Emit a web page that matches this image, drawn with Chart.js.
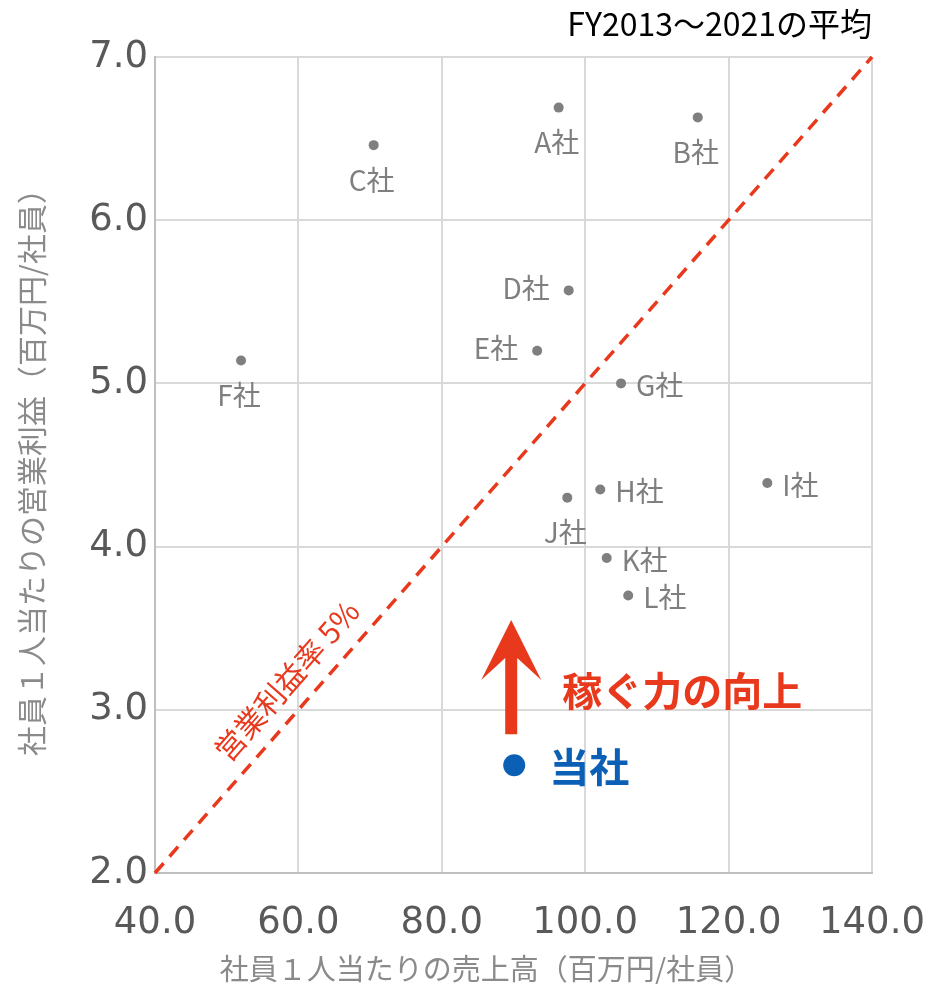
<!DOCTYPE html>
<html>
<head>
<meta charset="utf-8">
<script src="https://cdn.jsdelivr.net/npm/chart.js@4.4.1/dist/chart.umd.min.js"></script>
<style>
  html, body { margin: 0; padding: 0; background: #fff; }
</style>
</head>
<body>
<canvas id="c" width="927" height="984"></canvas>
<script>
// Data
const companies = ["A社", "B社", "C社", "D社", "E社", "F社", "G社", "H社", "I社", "J社", "K社", "L社"];
const salesPerEmployee = [96.3, 115.7, 70.5, 97.7, 93.3, 52.0, 105.0, 102.1, 125.4, 97.5, 103.0, 106.0];
const profitPerEmployee = [6.69, 6.63, 6.46, 5.57, 5.20, 5.14, 5.00, 4.35, 4.39, 4.30, 3.93, 3.70];
const labelSide = ["below", "below", "below", "left", "left", "below", "right", "right", "right", "below", "right", "right"];

const ourName = "当社";
const ourSales = [90.1];
const ourProfit = [2.66];

// 営業利益率 5% reference line endpoints
const marginLineX = [40, 140];
const marginLineY = [2.0, 7.0];
const marginLabel = "営業利益率 5%";

// arrow 稼ぐ力の向上 (y range in data units)
const arrowRange = [2.85, 3.55];
const arrowLabel = "稼ぐ力の向上";

const xRange = [40, 140];
const yRange = [2, 7];
const chartTitle = "FY2013～2021の平均";
const xTitle = "社員１人当たりの売上高（百万円/社員）";
const yTitle = "社員１人当たりの営業利益（百万円/社員）";

const CJK = '"Noto Sans CJK JP", "Noto Sans", sans-serif';
const RED = "#e8391d";
const BLUE = "#0b5fb4";

const annotations = {
  id: "annotations",
  afterDatasetsDraw(chart) {
    const ctx = chart.ctx;
    const xs = chart.scales.x, ys = chart.scales.y;
    const area = chart.chartArea;
    ctx.save();

    // title
    ctx.font = "32px " + CJK;
    ctx.fillStyle = "#000";
    ctx.textAlign = "right";
    ctx.textBaseline = "middle";
    ctx.fillText(chartTitle, area.right, area.top - 33);

    // x axis title (sits a little left of centre in the original)
    ctx.font = "29px " + CJK;
    ctx.fillStyle = "#8a8a8a";
    ctx.textAlign = "center";
    ctx.textBaseline = "bottom";
    ctx.fillText(xTitle, (area.left + area.right) / 2 - 27, chart.height - 1);

    // company labels
    ctx.font = "28px " + CJK;
    ctx.fillStyle = "#7f7f7f";
    chart.getDatasetMeta(0).data.forEach((pt, i) => {
      const side = labelSide[i];
      ctx.textBaseline = "middle";
      if (side === "below") {
        ctx.textAlign = "center";
        ctx.fillText(companies[i], pt.x - 2, pt.y + 35);
      } else if (side === "left") {
        ctx.textAlign = "right";
        ctx.fillText(companies[i], pt.x - 19, pt.y - 2);
      } else {
        ctx.textAlign = "left";
        ctx.fillText(companies[i], pt.x + 15, pt.y + 2);
      }
    });

    // margin line label, rotated along the line
    const x0 = xs.getPixelForValue(marginLineX[0]), y0 = ys.getPixelForValue(marginLineY[0]);
    const x1 = xs.getPixelForValue(marginLineX[1]), y1 = ys.getPixelForValue(marginLineY[1]);
    const ang = Math.atan2(y1 - y0, x1 - x0);
    const t = 0.213;
    const lx = x0 + (x1 - x0) * t + Math.sin(ang) * 28;
    const ly = y0 + (y1 - y0) * t - Math.cos(ang) * 28;
    ctx.save();
    ctx.translate(lx, ly);
    ctx.rotate(ang);
    ctx.font = "30px " + CJK;
    ctx.fillStyle = RED;
    ctx.textAlign = "center";
    ctx.textBaseline = "middle";
    ctx.fillText(marginLabel, 0, 0);
    ctx.restore();

    // arrow
    const ax = xs.getPixelForValue(ourSales[0]) - 3;
    const aBottom = ys.getPixelForValue(arrowRange[0]);
    const aTop = ys.getPixelForValue(arrowRange[1]);
    const headH = 60, headW = 30, shaft = 6;
    ctx.fillStyle = RED;
    ctx.beginPath();
    ctx.moveTo(ax, aTop);
    ctx.lineTo(ax + headW, aTop + headH);
    ctx.lineTo(ax + shaft, aTop + headH - 22);
    ctx.lineTo(ax + shaft, aBottom);
    ctx.lineTo(ax - shaft, aBottom);
    ctx.lineTo(ax - shaft, aTop + headH - 22);
    ctx.lineTo(ax - headW, aTop + headH);
    ctx.closePath();
    ctx.fill();

    ctx.font = "bold 40px " + CJK;
    ctx.textAlign = "left";
    ctx.textBaseline = "middle";
    ctx.fillText(arrowLabel, ax + 51, aBottom - 43);

    // our company label
    const ourPt = chart.getDatasetMeta(1).data[0];
    ctx.fillStyle = BLUE;
    ctx.fillText(ourName, ourPt.x + 35, ourPt.y + 2);

    ctx.restore();
  }
};

const tickFont = { family: '"DejaVu Sans", sans-serif', size: 37 };

new Chart(document.getElementById("c").getContext("2d"), {
  type: "scatter",
  data: {
    datasets: [
      {
        label: "他社",
        data: companies.map((c, i) => ({ x: salesPerEmployee[i], y: profitPerEmployee[i] })),
        backgroundColor: "#7f7f7f",
        borderWidth: 0,
        pointRadius: 5,
        order: 1
      },
      {
        label: ourName,
        data: ourSales.map((v, i) => ({ x: v, y: ourProfit[i] })),
        backgroundColor: BLUE,
        borderWidth: 0,
        pointRadius: 11,
        order: 0
      },
      {
        type: "line",
        label: marginLabel,
        data: marginLineX.map((v, i) => ({ x: v, y: marginLineY[i] })),
        borderColor: RED,
        borderWidth: 3.5,
        borderDash: [13, 9],
        pointRadius: 0,
        fill: false,
        clip: false,
        order: 2
      }
    ]
  },
  plugins: [annotations],
  options: {
    responsive: false,
    animation: false,
    devicePixelRatio: 1,
    layout: { padding: { top: 57, right: 55, left: 0, bottom: 0 } },
    plugins: {
      legend: { display: false },
      tooltip: { enabled: false }
    },
    scales: {
      x: {
        type: "linear",
        min: xRange[0],
        max: xRange[1],
        afterFit(scale) {
          scale.height = 111;
          scale.paddingLeft = 0;
          scale.paddingRight = 0;
        },
        ticks: {
          stepSize: 20,
          padding: 28,
          color: "#595959",
          font: tickFont,
          callback: v => v.toFixed(1)
        },
        grid: { color: "#d9d9d9", lineWidth: 2, drawTicks: false },
        border: { color: "#bfbfbf", width: 2 },
        title: { display: false }
      },
      y: {
        type: "linear",
        min: yRange[0],
        max: yRange[1],
        afterFit(scale) {
          scale.width = 155;
          scale.paddingTop = 0;
          scale.paddingBottom = 0;
        },
        ticks: {
          stepSize: 1,
          padding: 7,
          color: "#595959",
          font: tickFont,
          callback: v => v.toFixed(1)
        },
        grid: { color: "#d9d9d9", lineWidth: 2, drawTicks: false },
        border: { color: "#bfbfbf", width: 2 },
        title: {
          display: true,
          text: yTitle,
          color: "#8a8a8a",
          font: { family: CJK, size: 30 },
          padding: { top: 14, bottom: 0 }
        }
      }
    }
  }
});
</script>
</body>
</html>
